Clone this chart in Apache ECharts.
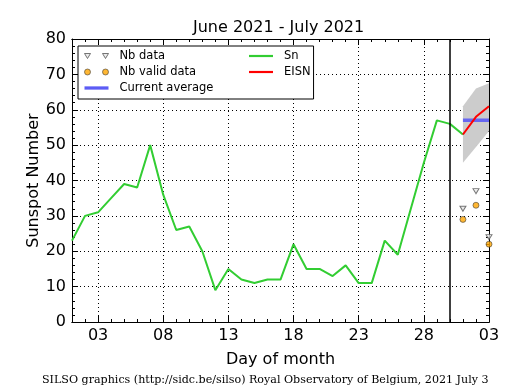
<!DOCTYPE html>
<html><head><meta charset="utf-8">
<script src="https://cdn.jsdelivr.net/npm/echarts@6/dist/echarts.min.js"></script>
<style>html,body{margin:0;padding:0;background:#fff}#c{width:515px;height:390px}</style>
</head><body><div id="c"></div>
<script>
const dates = ['2021-06-01','2021-06-02','2021-06-03','2021-06-04','2021-06-05','2021-06-06','2021-06-07','2021-06-08','2021-06-09','2021-06-10',
  '2021-06-11','2021-06-12','2021-06-13','2021-06-14','2021-06-15','2021-06-16','2021-06-17','2021-06-18','2021-06-19','2021-06-20',
  '2021-06-21','2021-06-22','2021-06-23','2021-06-24','2021-06-25','2021-06-26','2021-06-27','2021-06-28','2021-06-29','2021-06-30',
  '2021-07-01','2021-07-02','2021-07-03'];
const yTicks = [0, 10, 20, 30, 40, 50, 60, 70, 80];
const sn = [23,30,31,35,39,38,50,36,26,27,20,9,15,12,11,12,12,22,15,15,13,16,11,11,23,19,32,45,57,56,53];
const forecastDates = ['2021-07-01','2021-07-02','2021-07-03'];
const eisn = [53, 58, 61];
const bandLow = [45, 49.5, 54];
const bandHigh = [61, 66, 67.5];
const currentAvg = [57, 57, 57];
const nbData = [32, 37, 24];
const nbValid = [29, 33, 22];
const monthBoundary = '2021-06-30';

const FONT = 'DejaVu Sans';
function onDates(vals) {
  const out = dates.map(() => null);
  forecastDates.forEach((d, i) => { out[dates.indexOf(d)] = vals[i]; });
  return out;
}
const majorIdx = (i) => (i % 5) === 2;

const baseX = {
  type: 'category', data: dates, boundaryGap: false, gridIndex: 0,
  axisLine: { show: true, lineStyle: { color: '#000', width: 1 } },
  splitLine: { show: false }, axisLabel: { show: false }
};
const xAxes = [
  Object.assign({}, baseX, {
    position: 'bottom',
    axisTick: { show: true, inside: true, length: 6, interval: majorIdx, lineStyle: { color: '#000' } },
    axisLabel: { show: true, interval: majorIdx, formatter: (v) => v.slice(8), color: '#000', fontFamily: FONT, fontSize: 16, margin: 6 },
    splitLine: { show: true, interval: majorIdx, lineStyle: { color: '#000', type: [1, 3], width: 1 } },
    name: 'Day of month', nameLocation: 'middle', nameGap: 30, nameMoveOverlap: false,
    nameTextStyle: { color: '#000', fontFamily: FONT, fontSize: 16 }
  }),
  Object.assign({}, baseX, { position: 'bottom', axisTick: { show: true, inside: true, length: 3, interval: 0, lineStyle: { color: '#000' } } }),
  Object.assign({}, baseX, { position: 'top', axisTick: { show: true, inside: true, length: 6, interval: majorIdx, lineStyle: { color: '#000' } } }),
  Object.assign({}, baseX, { position: 'top', axisTick: { show: true, inside: true, length: 3, interval: 0, lineStyle: { color: '#000' } } })
];
const baseY = {
  type: 'value', min: yTicks[0], max: yTicks[yTicks.length - 1], interval: yTicks[1] - yTicks[0],
  axisLine: { show: true, lineStyle: { color: '#000', width: 1 } },
  axisTick: { show: true, inside: true, length: 6, lineStyle: { color: '#000' } },
  minorTick: { show: true, splitNumber: 5, length: 3, lineStyle: { color: '#000' } },
  splitLine: { show: false }
};
const yAxes = [
  Object.assign({}, baseY, {
    position: 'left',
    axisLabel: { color: '#000', fontFamily: FONT, fontSize: 16, margin: 6 },
    splitLine: { show: true, lineStyle: { color: '#000', type: [1, 3], width: 1 } },
    name: 'Sunspot Number', nameLocation: 'middle', nameGap: 30, nameRotate: 90, nameMoveOverlap: false,
    nameTextStyle: { color: '#000', fontFamily: FONT, fontSize: 16 }
  }),
  Object.assign({}, baseY, { position: 'right', axisLabel: { show: false } })
];

const SN_COLOR = '#32cd32', AVG_COLOR = '#5c5cf5', EISN_COLOR = '#ff0000';
const bandDiff = bandHigh.map((h, i) => h - bandLow[i]);
const legendText = { fontFamily: FONT, fontSize: 11.5, color: '#000', lineHeight: 12, padding: [0, 0, 0, 6] };
const chart = echarts.init(document.getElementById('c'), null, { renderer: 'canvas' });
chart.setOption({
  animation: false,
  backgroundColor: '#fff',
  title: [
    { text: 'June 2021 - July 2021', left: 193, top: 18, padding: 0,
      textStyle: { fontFamily: FONT, fontSize: 16, fontWeight: 'normal', color: '#000', lineHeight: 20 } },
    { text: 'SILSO graphics (http://sidc.be/silso) Royal Observatory of Belgium, 2021 July 3', left: 42, top: 373, padding: 0,
      textStyle: { fontFamily: 'DejaVu Serif', fontSize: 11.1, fontWeight: 'normal', color: '#000', lineHeight: 14 } }
  ],
  grid: { left: 72, right: 26, top: 39, bottom: 68, containLabel: false },
  xAxis: xAxes,
  yAxis: yAxes,
  legend: {
    left: 78, top: 46, orient: 'vertical', height: 46,
    padding: [4, 3, 5, 6], itemGap: 4, itemWidth: 24, itemHeight: 8,
    backgroundColor: '#fff', borderColor: '#000', borderWidth: 1, borderRadius: 0,
    textStyle: legendText,
    data: [
      { name: 'Nb data', icon: 'path://M0,0L6,0L3,5ZM18,0L24,0L21,5Z',
        itemStyle: { color: '#e6e6e6', borderColor: '#555', borderWidth: 1 }, textStyle: { width: 125 } },
      { name: 'Nb valid data', icon: 'path://M0,3A3,3 0 1 1 6,3A3,3 0 1 1 0,3ZM18,3A3,3 0 1 1 24,3A3,3 0 1 1 18,3Z',
        itemStyle: { color: '#ffa500', borderColor: '#333', borderWidth: 0.7 }, textStyle: { width: 125 } },
      { name: 'Current average', icon: 'path://M0,0H22V3H0Z',
        itemStyle: { color: AVG_COLOR, borderWidth: 0 }, textStyle: { width: 125 } },
      { name: 'Sn', icon: 'path://M0,0H22V2H0Z',
        itemStyle: { color: SN_COLOR, borderWidth: 0 }, textStyle: { width: 24 } },
      { name: 'EISN', icon: 'path://M0,0H22V2H0Z',
        itemStyle: { color: EISN_COLOR, borderWidth: 0 }, textStyle: { width: 24 } }
    ]
  },
  series: [
    { name: 'band-low', type: 'line', stack: 'band', data: onDates(bandLow), symbol: 'none',
      lineStyle: { opacity: 0 }, areaStyle: { opacity: 0 }, silent: true, z: 1 },
    { name: 'band', type: 'line', stack: 'band', data: onDates(bandDiff), symbol: 'none',
      lineStyle: { opacity: 0 }, areaStyle: { color: '#cccccc', opacity: 1 }, silent: true, z: 1 },
    { name: 'Sn', type: 'line', data: sn, symbol: 'none', showSymbol: false, color: SN_COLOR,
      lineStyle: { color: SN_COLOR, width: 2 }, z: 3,
      markLine: { silent: true, symbol: 'none', label: { show: false },
        lineStyle: { color: '#000', width: 1.5, type: 'solid' }, data: [{ xAxis: monthBoundary }] } },
    { name: 'Current average', type: 'line', data: onDates(currentAvg), symbol: 'none', showSymbol: false, color: AVG_COLOR,
      lineStyle: { color: AVG_COLOR, width: 3.5, opacity: 0.9 }, z: 4 },
    { name: 'EISN', type: 'line', data: onDates(eisn), symbol: 'none', showSymbol: false, color: EISN_COLOR,
      lineStyle: { color: EISN_COLOR, width: 2 }, z: 5 },
    { name: 'Nb data', type: 'scatter', data: onDates(nbData), symbol: 'triangle', symbolRotate: 180, symbolSize: [6, 5],
      itemStyle: { color: '#e6e6e6', borderColor: '#555', borderWidth: 1 }, z: 6, clip: false },
    { name: 'Nb valid data', type: 'scatter', data: onDates(nbValid), symbol: 'circle', symbolSize: 6,
      itemStyle: { color: '#ffa500', borderColor: '#333', borderWidth: 0.7 }, z: 6, clip: false }
  ]
});
</script></body></html>
